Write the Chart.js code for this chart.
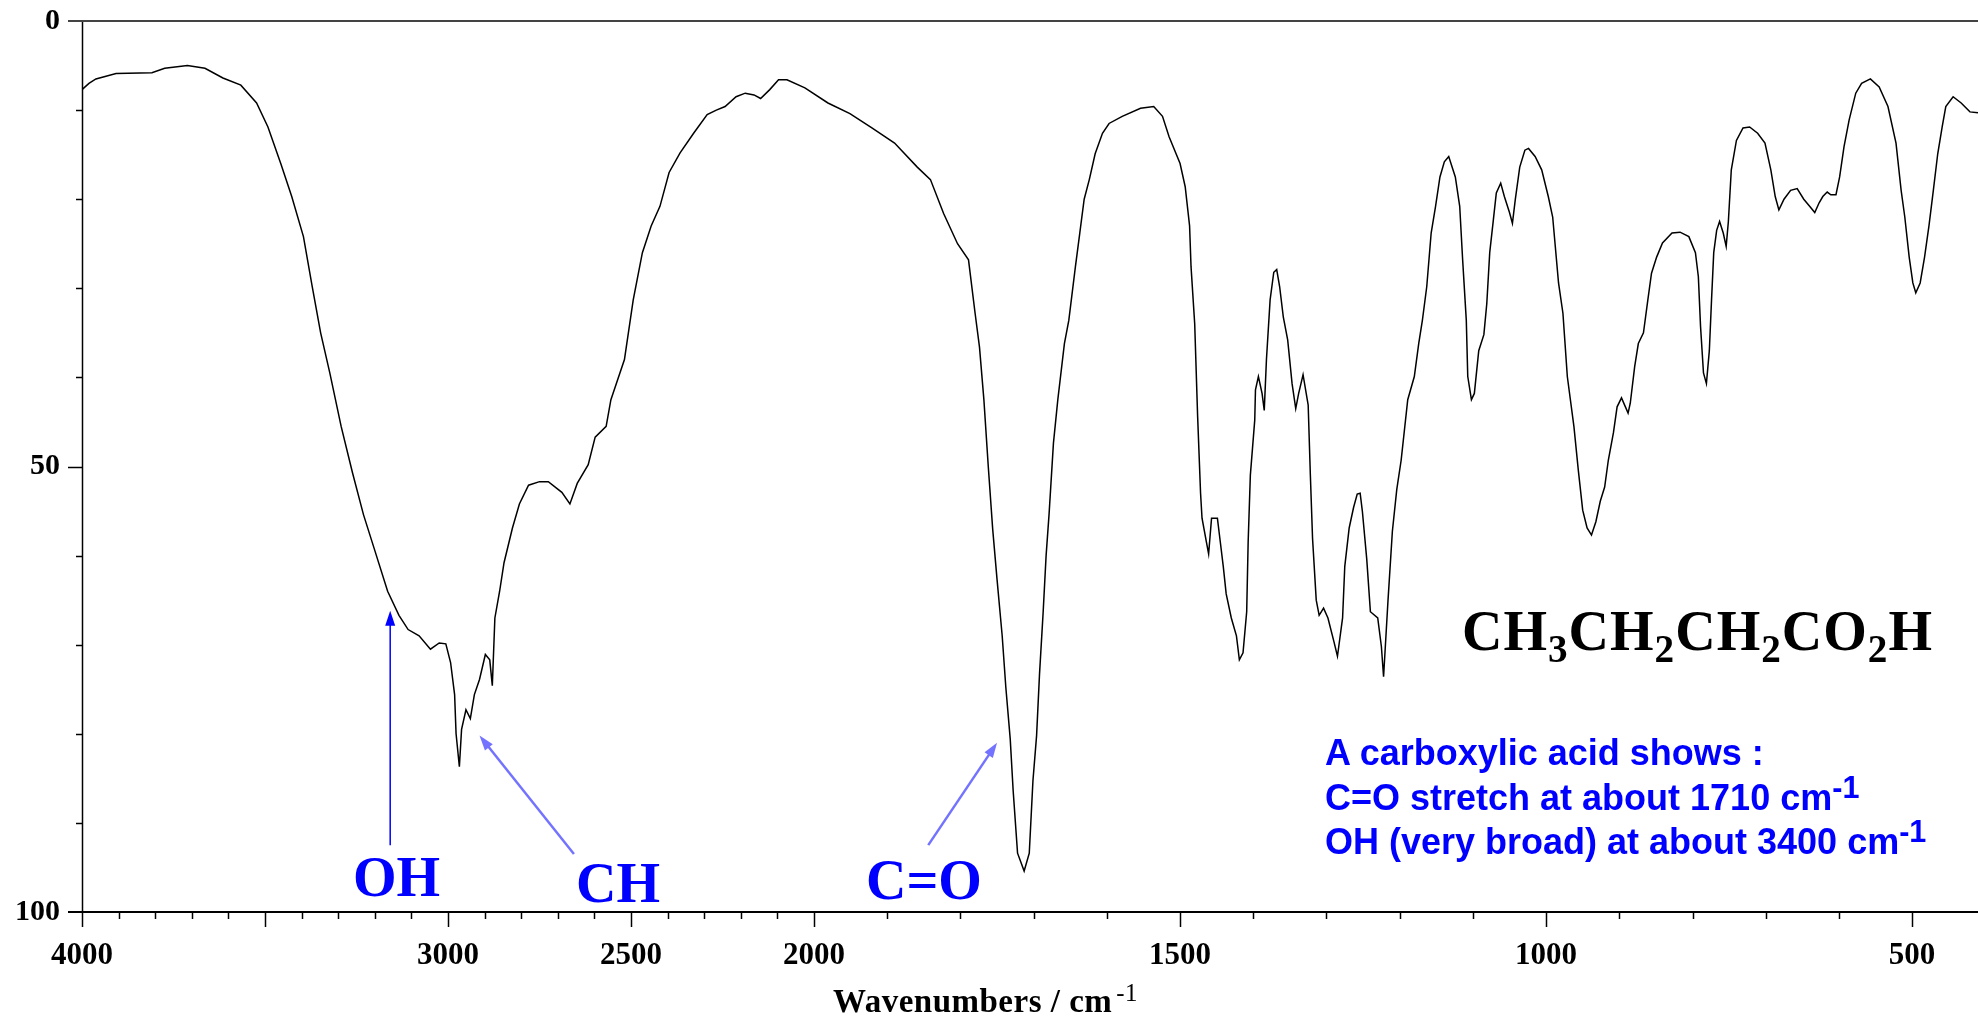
<!DOCTYPE html>
<html lang="en">
<head>
<meta charset="utf-8">
<title>IR spectrum - CH3CH2CH2CO2H</title>
<script src="https://cdn.jsdelivr.net/npm/chart.js@4.4.0/dist/chart.umd.min.js"></script>
<style>
    html, body { margin: 0; padding: 0; background: #fff; }
    #stage { position: relative; width: 1978px; height: 1020px; overflow: hidden; background: #fff; }
    #stage canvas { position: absolute; left: 0; top: 0; }
    .band { position: absolute; font: bold 56px 'Liberation Serif', 'Times New Roman', serif; color: #0000ff; line-height: 1; white-space: nowrap; }
    .formula { position: absolute; left: 1462px; top: 603px; font: bold 56px 'Liberation Serif', 'Times New Roman', serif; letter-spacing: 1px; color: #000; line-height: 1; white-space: nowrap; }
    .formula sub { font-size: 0.7em; position: relative; top: 0.3em; vertical-align: baseline; line-height: 0; }
    .note { position: absolute; left: 1325px; font: bold 36px 'Liberation Sans', Arial, sans-serif; color: #0000ff; line-height: 1; white-space: nowrap; }
    .note sup { font-size: 0.85em; position: relative; top: -0.4em; vertical-align: baseline; line-height: 0; }
    .axis-title { position: absolute; left: 833px; top: 985px; font: bold 33px 'Liberation Serif', 'Times New Roman', serif; letter-spacing: 0.5px; color: #000; line-height: 1; white-space: nowrap; }
    .axis-title sup { font-size: 0.75em; font-weight: normal; position: relative; top: -0.45em; vertical-align: baseline; line-height: 0; margin-left: 4px; }
</style>
</head>
<body>
<div id="stage">
    <canvas id="spectrum" width="1978" height="1020"></canvas>

    <div class="band" style="left:353px; top:849px;">OH</div>
    <div class="band" style="left:576px; top:855px;">CH</div>
    <div class="band" style="left:866px; top:852px;">C=O</div>

    <div class="formula">CH<sub>3</sub>CH<sub>2</sub>CH<sub>2</sub>CO<sub>2</sub>H</div>

    <div class="note" style="top:735px;">A carboxylic acid shows :</div>
    <div class="note" style="top:780px;">C=O stretch at about 1710 cm<sup>-1</sup></div>
    <div class="note" style="top:824px;">OH (very broad) at about 3400 cm<sup>-1</sup></div>

    <div class="axis-title">Wavenumbers / cm<sup>-1</sup></div>
</div>

<script>
const wavenumbers = [
    4000, 3981, 3962, 3907, 3809, 3774, 3712, 3664, 3615, 3566,
    3523, 3492, 3457, 3427, 3395, 3371, 3348, 3323, 3292, 3261,
    3231, 3201, 3165, 3134, 3109, 3079, 3048, 3024, 3006, 2993,
    2982, 2978, 2969, 2963, 2951, 2939, 2928, 2914, 2898, 2886,
    2879, 2872, 2859, 2847, 2824, 2805, 2780, 2750, 2726, 2689,
    2667, 2647, 2617, 2598, 2568, 2555, 2518, 2494, 2469, 2445,
    2421, 2396, 2366, 2329, 2292, 2267, 2243, 2213, 2188, 2164,
    2146, 2121, 2097, 2074, 2025, 1981, 1951, 1921, 1890, 1859,
    1841, 1823, 1804, 1789, 1780, 1774, 1768, 1762, 1756, 1750,
    1743, 1738, 1732, 1728, 1722, 1713, 1706, 1701, 1696, 1692,
    1687, 1683, 1679, 1673, 1667, 1658, 1652, 1643, 1637, 1631,
    1624, 1616, 1606, 1597, 1579, 1554, 1536, 1524, 1515, 1500,
    1493, 1487, 1485, 1480, 1476, 1472, 1470, 1464, 1461, 1457,
    1449, 1445, 1441, 1437, 1430, 1423, 1419, 1414, 1409, 1407,
    1404, 1398, 1397, 1393, 1388, 1385, 1382, 1377, 1372, 1368,
    1364, 1359, 1353, 1347, 1342, 1338, 1332, 1325, 1322, 1319,
    1314, 1310, 1304, 1298, 1290, 1285, 1278, 1275, 1269, 1263,
    1258, 1254, 1251, 1245, 1240, 1230, 1225, 1222, 1216, 1210,
    1204, 1198, 1189, 1180, 1174, 1169, 1163, 1157, 1151, 1145,
    1139, 1133, 1124, 1118, 1114, 1109, 1107, 1102, 1098, 1092,
    1085, 1081, 1077, 1072, 1068, 1062, 1057, 1050, 1046, 1042,
    1036, 1029, 1024, 1015, 1006, 997, 991, 983, 977, 971,
    962, 956, 950, 944, 938, 932, 926, 920, 915, 908,
    903, 897, 888, 885, 879, 874, 867, 861, 856, 849,
    841, 828, 817, 805, 796, 792, 789, 785, 781, 777,
    774, 771, 767, 763, 758, 754, 751, 747, 740, 731,
    722, 711, 701, 693, 687, 682, 675, 666, 657, 648,
    640, 633, 627, 622, 616, 611, 604, 599, 593, 586,
    577, 569, 557, 545, 533, 522, 515, 510, 504, 499,
    495, 489, 483, 477, 471, 465, 459, 454, 444, 433,
    421, 410
];

// trace height on the 0 (top) .. 100 (bottom) scale
const signal = [
    7.7, 7.0, 6.5, 5.9, 5.8, 5.3, 5.0, 5.3, 6.4, 7.2,
    9.2, 11.9, 16.0, 19.7, 24.2, 29.8, 35.0, 39.5, 45.5, 50.7,
    55.4, 59.3, 64.0, 66.7, 68.3, 69.0, 70.5, 69.8, 69.9, 72.0,
    75.6, 80.0, 83.7, 79.5, 77.3, 78.3, 75.6, 73.9, 71.1, 71.7,
    74.6, 67.0, 64.0, 60.8, 56.9, 54.2, 52.1, 51.7, 51.7, 52.9,
    54.2, 51.9, 49.8, 46.7, 45.5, 42.5, 38.0, 31.3, 26.0, 23.0,
    20.8, 17.0, 14.8, 12.6, 10.5, 10.0, 9.6, 8.5, 8.1, 8.3,
    8.7, 7.7, 6.6, 6.6, 7.5, 9.2, 10.4, 12.0, 13.7, 16.4,
    17.8, 21.6, 25.0, 26.8, 32.8, 36.6, 42.5, 50.0, 57.0, 62.7,
    69.0, 74.8, 80.6, 86.4, 93.4, 95.4, 93.4, 85.3, 80.2, 73.3,
    66.3, 60.0, 55.4, 47.4, 42.5, 36.2, 33.6, 27.6, 23.8, 20.0,
    17.8, 14.9, 12.6, 11.5, 10.7, 9.8, 9.6, 10.7, 13.0, 16.0,
    18.6, 23.0, 27.6, 34.0, 44.4, 53.0, 55.8, 58.5, 59.8, 55.8,
    55.8, 58.5, 61.2, 64.3, 67.0, 69.0, 71.7, 70.9, 66.3, 58.5,
    51.0, 44.8, 41.4, 39.9, 41.8, 43.7, 38.0, 31.3, 28.2, 27.9,
    29.8, 33.2, 35.8, 40.7, 43.5, 41.8, 39.7, 43.1, 51.0, 58.1,
    65.0, 66.7, 65.9, 67.0, 69.6, 71.3, 67.0, 61.2, 56.9, 54.6,
    53.1, 53.0, 55.0, 60.4, 66.3, 67.0, 70.2, 73.6, 65.1, 57.3,
    52.6, 49.3, 42.5, 39.9, 36.2, 33.6, 29.8, 23.8, 20.8, 17.5,
    15.8, 15.2, 17.5, 20.8, 26.8, 33.6, 39.9, 42.5, 41.8, 37.0,
    35.2, 31.7, 26.0, 22.3, 19.3, 18.2, 19.7, 21.5, 22.7, 20.0,
    16.4, 14.5, 14.3, 15.2, 16.7, 19.7, 22.0, 29.4, 32.8, 39.9,
    45.5, 50.4, 54.9, 56.9, 57.7, 56.2, 53.9, 52.3, 49.3, 46.2,
    43.3, 42.3, 44.0, 42.9, 38.8, 36.2, 35.0, 31.3, 28.3, 26.5,
    24.9, 23.8, 23.7, 24.2, 26.0, 28.7, 34.3, 39.5, 40.7, 37.0,
    31.3, 26.0, 23.5, 22.5, 23.8, 25.3, 22.5, 16.7, 13.4, 12.0,
    11.9, 12.6, 13.7, 16.7, 19.7, 21.2, 20.0, 19.0, 18.8, 20.0,
    20.8, 21.5, 20.4, 19.7, 19.2, 19.5, 19.5, 17.5, 14.1, 11.1,
    8.1, 7.0, 6.5, 7.4, 9.6, 13.7, 19.0, 22.0, 26.5, 29.4,
    30.5, 29.4, 26.5, 23.0, 19.0, 14.9, 11.9, 9.6, 8.5, 9.2,
    10.2, 10.3
];

const xTickLabels = [4000, 3000, 2500, 2000, 1500, 1000, 500];
const yTickLabels = [0, 50, 100];

// the spectrometer halves the scale above 2000 cm-1
const BREAK_AT = 2000;
const squeeze = v => (v > BREAK_AT ? BREAK_AT + (v - BREAK_AT) / 2 : v);
const unsqueeze = s => (s > BREAK_AT ? BREAK_AT + (s - BREAK_AT) * 2 : s);

const LinearScale = Chart.LinearScale || Chart.registry.getScale('linear');

class IrScale extends LinearScale {
    getPixelForValue(value) {
        if (value === null || value === undefined) return NaN;
        const lo = squeeze(this.min), hi = squeeze(this.max);
        return this.getPixelForDecimal((squeeze(value) - lo) / (hi - lo));
    }
    getValueForPixel(pixel) {
        const lo = squeeze(this.min), hi = squeeze(this.max);
        return unsqueeze(lo + this.getDecimalForPixel(pixel) * (hi - lo));
    }
}
IrScale.id = 'irscale';
IrScale.defaults = LinearScale.defaults;
Chart.register(IrScale);

// arrows from the band labels to the peaks, in data units
const arrowNotes = [
    { from: [3158, 92.5], to: [3158, 66.2], color: '#0000ff', width: 1.5 },
    { from: [2656, 93.5], to: [2914, 80.2], color: '#7373ff', width: 2.5 },
    { from: [1844, 92.5], to: [1750, 81.0], color: '#7373ff', width: 2.5 }
];

function strokeLine(ctx, x1, y1, x2, y2) {
    ctx.beginPath();
    ctx.moveTo(x1, y1);
    ctx.lineTo(x2, y2);
    ctx.stroke();
}

// axis frame, tick marks and the label arrows
const frameTicks = {
    id: 'frameTicks',
    afterDraw(chart) {
        const { ctx, chartArea: a, scales: { x, y } } = chart;
        ctx.save();
        ctx.strokeStyle = '#000';

        ctx.lineWidth = 1.5;
        strokeLine(ctx, a.left + 0.5, a.top, a.left + 0.5, a.bottom);

        ctx.lineWidth = 2;
        strokeLine(ctx, a.left - 14, a.bottom, a.right, a.bottom);
        ctx.strokeStyle = '#444';
        strokeLine(ctx, a.left - 14, a.top, a.right, a.top);

        ctx.strokeStyle = '#000';
        ctx.lineWidth = 1.5;
        for (let v = 10; v < 100; v += 10) {
            const py = Math.round(y.getPixelForValue(v)) + 0.5;
            const len = yTickLabels.includes(v) ? 14 : 6;
            strokeLine(ctx, a.left - len, py, a.left, py);
        }
        for (let v = 4000; v >= x.min; v -= 100) {
            const px = Math.round(x.getPixelForValue(v)) + 0.5;
            const len = v % 500 === 0 ? 15 : 7;
            strokeLine(ctx, px, a.bottom, px, a.bottom + len);
        }
        ctx.restore();
    },
    afterDatasetsDraw(chart) {
        const { ctx, scales: { x, y } } = chart;
        ctx.save();
        arrowNotes.forEach(n => {
            const x1 = x.getPixelForValue(n.from[0]), y1 = y.getPixelForValue(n.from[1]);
            const x2 = x.getPixelForValue(n.to[0]), y2 = y.getPixelForValue(n.to[1]);
            const ang = Math.atan2(y2 - y1, x2 - x1);
            ctx.strokeStyle = n.color;
            ctx.fillStyle = n.color;
            ctx.lineWidth = n.width;
            strokeLine(ctx, x1, y1, x2 - 8 * Math.cos(ang), y2 - 8 * Math.sin(ang));
            ctx.beginPath();
            ctx.moveTo(x2, y2);
            ctx.lineTo(x2 - 15 * Math.cos(ang) + 5 * Math.sin(ang), y2 - 15 * Math.sin(ang) - 5 * Math.cos(ang));
            ctx.lineTo(x2 - 15 * Math.cos(ang) - 5 * Math.sin(ang), y2 - 15 * Math.sin(ang) + 5 * Math.cos(ang));
            ctx.closePath();
            ctx.fill();
        });
        ctx.restore();
    }
};

Chart.defaults.font.family = "'Liberation Serif', 'Times New Roman', serif";

new Chart(document.getElementById('spectrum'), {
    type: 'line',
    data: {
        datasets: [{
            data: wavenumbers.map((w, i) => ({ x: w, y: signal[i] })),
            borderColor: '#000',
            borderWidth: 1.5,
            pointRadius: 0,
            tension: 0,
            fill: false
        }]
    },
    options: {
        responsive: false,
        devicePixelRatio: 1,
        animation: false,
        events: [],
        layout: { autoPadding: false, padding: { top: 21, left: 0, right: 0, bottom: 0 } },
        plugins: { legend: { display: false }, tooltip: { enabled: false } },
        scales: {
            x: {
                type: 'irscale',
                position: 'bottom',
                min: 410,
                max: 4000,
                reverse: true,
                bounds: 'data',
                afterBuildTicks: s => { s.ticks = xTickLabels.map(v => ({ value: v })); },
                afterFit: s => {
                    s.height = 108;
                    s.paddingLeft = 0;
                    s.paddingRight = 0;
                },
                grid: { display: false, drawTicks: false },
                border: { display: false },
                ticks: {
                    padding: 25,
                    maxRotation: 0,
                    autoSkip: false,
                    color: '#000',
                    font: { size: 31, weight: 'bold' },
                    callback: v => String(v)
                }
            },
            y: {
                type: 'linear',
                min: 0,
                max: 100,
                reverse: true,
                bounds: 'data',
                afterBuildTicks: s => { s.ticks = yTickLabels.map(v => ({ value: v })); },
                afterFit: s => {
                    s.width = 82;
                    s.paddingTop = 0;
                    s.paddingBottom = 0;
                },
                grid: { display: false, drawTicks: false },
                border: { display: false },
                ticks: {
                    padding: 22,
                    autoSkip: false,
                    color: '#000',
                    font: { size: 30, weight: 'bold' },
                    callback: v => String(v)
                }
            }
        }
    },
    plugins: [frameTicks]
});
</script>
</body>
</html>
